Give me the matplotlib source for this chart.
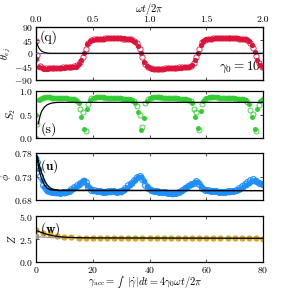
import numpy as np
import matplotlib
matplotlib.use("Agg")
import matplotlib.pyplot as plt
from matplotlib.offsetbox import TextArea, HPacker, AnchoredOffsetbox

plt.rcParams['font.family'] = 'serif'
plt.rcParams['font.serif'] = ['cmr10', 'DejaVu Serif']
plt.rcParams['mathtext.fontset'] = 'cm'
plt.rcParams['axes.formatter.use_mathtext'] = True
plt.rcParams['axes.unicode_minus'] = True

# ---------------- data ----------------
gamma0 = 10
# panel (q): theta_ej vs omega t / 2pi
t_filled = np.arange(0, 2.0001, 0.025)
theta_filled = [
    -20, -47, -51, -52, -52, -51, -51, -50, -50, -49,
    -49, -48, -48, -47, -45, -38, -22, 2, 30, 42,
    46, 48, 49, 50, 50, 51, 51, 52, 52, 52,
    51, 51, 50, 49, 46, 40, 26, 2, -28, -44,
    -50, -52, -53, -53, -52, -52, -51, -51, -50, -50,
    -49, -49, -48, -47, -45, -39, -24, 0, 28, 42,
    47, 49, 50, 51, 52, 52, 53, 53, 52, 52,
    52, 51, 50, 49, 47, 41, 28, 4, -22, -40,
    -48]
t_open = np.arange(0.0125, 2.0, 0.025)
theta_open = [
    -5, -44, -50, -51, -51, -50, -50, -49, -49, -48,
    -48, -47, -46, -44, -40, -30, -12, 15, 36, 45,
    47, 48, 49, 50, 51, 51, 51, 52, 51, 51,
    50, 50, 49, 47, 43, 34, 15, -12, -38, -48,
    -51, -52, -53, -52, -52, -51, -51, -50, -50, -49,
    -48, -48, -47, -45, -42, -32, -12, 14, 37, 45,
    48, 50, 51, 51, 52, 53, 53, 52, 52, 51,
    51, 50, 49, 48, 45, 36, 18, -8, -32, -45]
theta_start = [42]
t_start = [0.0]
theta_model_t = [0, 0.0125, 0.025, 0.0375, 0.05, 0.075, 0.1, 0.125, 2.0]
theta_model = [45, 30, 19, 12, 7, 3, 1, 0, 0]

# panel (s): S2 vs gamma_acc
g_int = np.arange(0, 81, 1)
S2_filled = [
    0.50, 0.82, 0.86, 0.87, 0.87, 0.87, 0.86, 0.86, 0.86, 0.85,
    0.85, 0.85, 0.84, 0.84, 0.82, 0.74, 0.45, 0.20, 0.62, 0.82,
    0.86, 0.87, 0.87, 0.87, 0.87, 0.86, 0.86, 0.86, 0.85, 0.85,
    0.85, 0.84, 0.84, 0.83, 0.82, 0.74, 0.55, 0.18, 0.42, 0.80,
    0.85, 0.87, 0.87, 0.87, 0.87, 0.86, 0.86, 0.86, 0.85, 0.85,
    0.85, 0.84, 0.84, 0.83, 0.82, 0.74, 0.45, 0.22, 0.58, 0.80,
    0.85, 0.87, 0.87, 0.87, 0.87, 0.86, 0.86, 0.86, 0.85, 0.85,
    0.85, 0.84, 0.84, 0.83, 0.82, 0.72, 0.45, 0.20, 0.62, 0.80,
    0.83]
g_half = np.arange(0.5, 80, 1)
S2_open = [
    0.30, 0.84, 0.86, 0.87, 0.87, 0.86, 0.86, 0.86, 0.85, 0.85,
    0.85, 0.84, 0.84, 0.83, 0.78, 0.62, 0.55, 0.16, 0.72, 0.85,
    0.86, 0.87, 0.87, 0.87, 0.86, 0.86, 0.86, 0.85, 0.85, 0.85,
    0.84, 0.84, 0.83, 0.82, 0.78, 0.68, 0.50, 0.24, 0.74, 0.84,
    0.86, 0.87, 0.87, 0.87, 0.86, 0.86, 0.86, 0.85, 0.85, 0.85,
    0.84, 0.84, 0.83, 0.82, 0.78, 0.62, 0.55, 0.17, 0.72, 0.84,
    0.86, 0.87, 0.87, 0.87, 0.86, 0.86, 0.86, 0.85, 0.85, 0.85,
    0.84, 0.84, 0.83, 0.82, 0.76, 0.60, 0.52, 0.16, 0.70, 0.82]
S2_start_g = [0.0]
S2_start = [0.0]
S2_model_g = [0.8, 1.5, 2, 3, 4, 5, 6, 7, 8, 80]
S2_model = [0.30, 0.48, 0.57, 0.66, 0.71, 0.735, 0.75, 0.757, 0.76, 0.76]

# panel (u): phi vs gamma_acc
phi_filled = [
    0.770, 0.745, 0.722, 0.708, 0.700, 0.697, 0.696, 0.695, 0.694, 0.694,
    0.695, 0.697, 0.700, 0.703, 0.707, 0.712, 0.717, 0.722, 0.713, 0.705,
    0.700, 0.699, 0.699, 0.698, 0.697, 0.697, 0.698, 0.699, 0.698, 0.697,
    0.698, 0.701, 0.705, 0.711, 0.717, 0.723, 0.728, 0.730, 0.720, 0.710,
    0.703, 0.700, 0.699, 0.698, 0.697, 0.696, 0.695, 0.694, 0.693, 0.694,
    0.696, 0.699, 0.703, 0.707, 0.711, 0.715, 0.718, 0.719, 0.710, 0.704,
    0.701, 0.700, 0.699, 0.699, 0.698, 0.697, 0.697, 0.698, 0.698, 0.699,
    0.700, 0.701, 0.704, 0.708, 0.713, 0.717, 0.721, 0.723, 0.719, 0.716,
    0.714]
phi_open = [
    0.760, 0.732, 0.713, 0.703, 0.699, 0.697, 0.696, 0.696, 0.695, 0.696,
    0.698, 0.700, 0.703, 0.707, 0.711, 0.716, 0.721, 0.718, 0.708, 0.702,
    0.701, 0.700, 0.699, 0.698, 0.698, 0.699, 0.700, 0.699, 0.698, 0.699,
    0.702, 0.706, 0.711, 0.717, 0.723, 0.728, 0.731, 0.724, 0.713, 0.705,
    0.701, 0.700, 0.699, 0.698, 0.697, 0.696, 0.695, 0.694, 0.694, 0.695,
    0.698, 0.702, 0.706, 0.710, 0.714, 0.717, 0.720, 0.714, 0.706, 0.702,
    0.701, 0.700, 0.700, 0.699, 0.698, 0.698, 0.698, 0.699, 0.699, 0.700,
    0.702, 0.705, 0.709, 0.714, 0.718, 0.722, 0.724, 0.721, 0.717, 0.715]
phi_model_g = [0, 0.5, 1, 1.5, 2, 3, 4, 5, 6, 8, 80]
phi_model_a = [0.780, 0.765, 0.748, 0.735, 0.725, 0.712, 0.705, 0.702, 0.701, 0.700, 0.700]
phi_model_b = [0.780, 0.772, 0.760, 0.748, 0.738, 0.722, 0.712, 0.706, 0.703, 0.701, 0.700]

# panel (w): Z vs gamma_acc
Z_g = np.arange(0, 80.01, 2.5)
Z_vals = [3.50, 3.18, 3.00, 2.85, 2.76, 2.70, 2.66, 2.63, 2.62, 2.61,
          2.61, 2.60, 2.60, 2.60, 2.59, 2.59, 2.59, 2.59, 2.58, 2.58,
          2.58, 2.58, 2.58, 2.57, 2.57, 2.57, 2.57, 2.57, 2.56, 2.56,
          2.56, 2.56, 2.55]
Z_model_g = [0, 2, 4, 6, 8, 10, 15, 20, 80]
Z_model = [3.45, 3.20, 3.00, 2.86, 2.76, 2.70, 2.64, 2.62, 2.58]
Z_gray = [2.78, 2.72, 2.68, 2.65, 2.63, 2.62, 2.61, 2.60, 2.58]

# ---------------- figure ----------------
red = '#DC143C'
green = '#32CD32'
blue = '#1E8FFF'
orange = '#DAA520'

fig = plt.figure(figsize=(2.92, 2.92), dpi=100)
L, W = 0.123, 0.778
ax1 = fig.add_axes([L, 0.727, W, 0.181])
ax2 = fig.add_axes([L, 0.527, W, 0.161])
ax3 = fig.add_axes([L, 0.315, W, 0.161])
ax4 = fig.add_axes([L, 0.103, W, 0.157])

for ax in (ax1, ax2, ax3, ax4):
    ax.set_xlim(0, 80)
    ax.set_xticks([0, 20, 40, 60, 80])
    ax.tick_params(direction='in', length=2.5, width=0.5, labelsize=7,
                   top=True, right=True, pad=2)
    for s in ax.spines.values():
        s.set_linewidth(0.9)
    if ax is not ax4:
        ax.tick_params(labelbottom=False)

# (q)
axt = ax1.twiny()
axt.set_xlim(0, 2)
axt.set_xticks([0, 0.5, 1.0, 1.5, 2.0])
axt.xaxis.set_major_formatter(matplotlib.ticker.FormatStrFormatter('%.1f'))
axt.tick_params(direction='in', length=2.5, width=0.5, labelsize=7, pad=2)
ax1.tick_params(top=False)
axt.plot(t_open, theta_open, 'o', mfc='none', mec=red, ms=3.8, mew=0.6, zorder=2)
axt.plot(t_filled, theta_filled, 'o', color=red, ms=3.8, mew=0, zorder=2)
axt.plot(t_start, theta_start, 'o', mfc='none', mec=red, ms=3.8, mew=0.6, zorder=2)
axt.axhline(0, color='0.35', lw=0.9, zorder=3)
axt.axhline(0, color='#6A6AD0', lw=0.7, ls=(0, (4, 3)), zorder=3.5)
axt.plot(theta_model_t, theta_model, color='k', lw=0.8, zorder=4)
ax1.set_ylim(-90, 90)
ax1.set_yticks([-90, -45, 0, 45, 90])
axt.set_ylim(-90, 90)
ax1.set_ylabel(r'$\theta_{ej}$', fontsize=7.5, labelpad=1)
axt.set_xlabel(r'$\omega t/2\pi$', fontsize=7.5, labelpad=3)
ax1.text(0.015, 0.93, '(q)', transform=ax1.transAxes, fontsize=10,
         va='top', ha='left', zorder=5)
ax1.text(0.99, 0.08, r'$\gamma_0 = 10$', transform=ax1.transAxes, fontsize=9.5,
         va='bottom', ha='right', zorder=5)

# (s)
ax2.plot(g_half, S2_open, 'o', mfc='none', mec=green, ms=3.6, mew=0.6, zorder=2)
ax2.plot(g_int, S2_filled, 'o', color=green, ms=3.6, mew=0, zorder=2)
ax2.plot(S2_start_g, S2_start, 'o', color=green, ms=3.6, mew=0, zorder=2, clip_on=True)
ax2.plot(S2_model_g, S2_model, color='k', lw=0.9, zorder=4)
ax2.set_ylim(0, 1)
ax2.set_yticks([0.0, 0.5, 1.0])
ax2.set_ylabel(r'$S_2$', fontsize=7.5, labelpad=1)
ax2.text(0.02, 0.05, '(s)', transform=ax2.transAxes, fontsize=10,
         va='bottom', ha='left', zorder=5)

# (u)
ax3.plot(g_half, phi_open, 'o', mfc='none', mec=blue, ms=4.2, mew=0.8, zorder=2)
ax3.plot(g_int, phi_filled, 'o', color=blue, ms=4.2, mew=0, zorder=2)
ax3.plot(phi_model_g, phi_model_a, color='k', lw=0.9, zorder=4)
ax3.plot(phi_model_g, phi_model_b, color='k', lw=0.9, zorder=4)
ax3.set_ylim(0.68, 0.78)
ax3.set_yticks([0.68, 0.73, 0.78])
ax3.set_ylabel(r'$\phi$', fontsize=7.5, labelpad=1)
ax3.text(0.02, 0.92, r'$\mathbf{(u)}$', transform=ax3.transAxes, fontsize=9.5,
         va='top', ha='left', zorder=5)

# (w)
ax4.plot(Z_g, Z_vals, 'o', color=orange, ms=4.5, mew=0, zorder=2)
ax4.plot(Z_model_g, Z_gray, color='0.6', lw=0.9, zorder=3)
ax4.plot([0], [Z_gray[0]], 's', color='0.6', ms=2.5, zorder=3)
ax4.plot(Z_model_g, Z_model, color='k', lw=0.9, zorder=4)
ax4.set_ylim(0, 5)
ax4.set_yticks([0.0, 2.5, 5.0])
ax4.set_ylabel(r'$Z$', fontsize=7.5, labelpad=1)
ax4.text(0.02, 0.92, r'$\mathbf{(w)}$', transform=ax4.transAxes, fontsize=9.5,
         va='top', ha='left', zorder=5)

# bottom x label, with a text-size integral sign
parts = [
    TextArea(r'$\gamma_{\rm acc} =$', textprops=dict(fontsize=7.5)),
    TextArea(r'$\int$', textprops=dict(fontsize=4.2)),
    TextArea(r'$|\dot{\gamma}|dt = 4\gamma_0\omega t/2\pi$', textprops=dict(fontsize=7.5)),
]
pack = HPacker(children=parts, align='center', pad=0, sep=1.5)
box = AnchoredOffsetbox(loc='center', child=pack, pad=0, frameon=False,
                        bbox_to_anchor=(0.497, 0.035),
                        bbox_transform=fig.transFigure, borderpad=0)
ax4.add_artist(box)

fig.savefig('out.png', dpi=100)
